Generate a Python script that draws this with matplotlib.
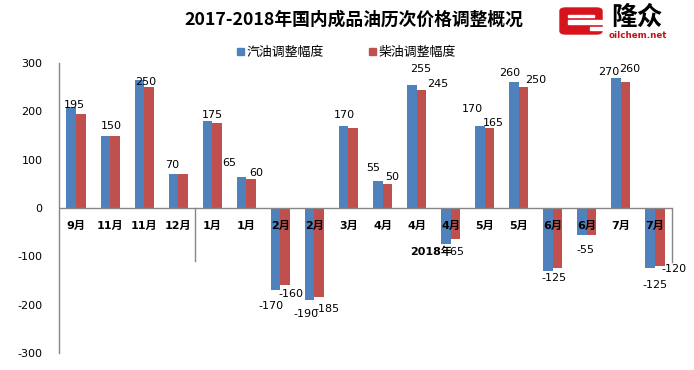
import matplotlib
matplotlib.use("Agg")
import matplotlib.pyplot as plt
from matplotlib.patches import FancyBboxPatch, Rectangle

plt.rcParams['font.family'] = ['DejaVu Sans', 'Noto Sans CJK SC']

categories = ["9月", "11月", "11月", "12月", "1月", "1月", "2月", "2月", "3月",
              "4月", "4月", "4月", "5月", "5月", "6月", "6月", "7月", "7月"]
gasoline = [210, 150, 265, 70, 180, 65, -170, -190, 170, 55, 255, -75, 170, 260, -130, -55, 270, -125]
diesel = [195, 150, 250, 70, 175, 60, -160, -185, 165, 50, 245, -65, 165, 250, -125, -55, 260, -120]
series_names = ["汽油调整幅度", "柴油调整幅度"]
title = "2017-2018年国内成品油历次价格调整概况"
year_label = "2018年"
yticks = [-300, -200, -100, 0, 100, 200, 300]

# label placement: (category, series, x, y)
labels = [
    (0, 1, -0.06, 213), (1, 1, 1.05, 170), (2, 1, 2.05, 261), (3, 1, 2.81, 89),
    (4, 1, 3.99, 193), (5, 0, 4.49, 94), (5, 1, 5.28, 73), (6, 0, 5.72, -203),
    (6, 1, 6.30, -178), (7, 0, 6.74, -220), (7, 1, 7.36, -209), (8, 0, 7.89, 193),
    (9, 0, 8.74, 83), (9, 1, 9.27, 64), (10, 0, 10.12, 288), (10, 1, 10.61, 257),
    (11, 1, 11.15, -91), (12, 0, 11.64, 205), (12, 1, 12.26, 176), (13, 0, 12.73, 280),
    (13, 1, 13.49, 265), (14, 1, 14.05, -145), (15, 1, 14.95, -87), (16, 0, 15.63, 282),
    (16, 1, 16.27, 288), (17, 0, 17.0, -160), (17, 1, 17.56, -126),
]

blue = "#4F81BD"
red = "#C0504D"
axis_gray = "#868686"

W, H = 694, 370
fig = plt.figure(figsize=(W / 100, H / 100), dpi=100)
fig.patch.set_facecolor("white")

def fx(x):
    return x / W

def fy(y):
    return 1 - y / H

ax = fig.add_axes([fx(59), fy(353), fx(672) - fx(59), fy(63) - fy(353)])
n = len(categories)
xs = list(range(n))
bw = 0.28
ax.bar([x - bw / 2 for x in xs], gasoline, width=bw, color=blue, label=series_names[0], zorder=2)
ax.bar([x + bw / 2 for x in xs], diesel, width=bw, color=red, label=series_names[1], zorder=2)

ax.set_xlim(-0.5, n - 0.5)
ax.set_ylim(-300, 300)
ax.set_yticks(yticks)
ax.set_yticklabels([str(v) for v in yticks], fontsize=8)
ax.tick_params(axis='y', length=0, pad=12)
ax.set_xticks([])
for s in ["top", "right", "bottom"]:
    ax.spines[s].set_visible(False)
ax.spines["left"].set_color(axis_gray)
ax.spines["left"].set_linewidth(1)

ax.axhline(0, color=axis_gray, lw=1, zorder=3)
ax.plot([3.5, 3.5], [0, -110], color=axis_gray, lw=1, zorder=3)
ax.plot([17.5, 17.5], [0, -112], color=axis_gray, lw=1, zorder=3, clip_on=False)

for i, c in enumerate(categories):
    ax.text(i, -37, c, ha="center", va="center", fontsize=8, fontweight="bold",
            family=["DejaVu Sans", "Noto Sans CJK SC"], zorder=5)

vals = [gasoline, diesel]
for cat, s, x, y in labels:
    ax.text(x, y, str(vals[s][cat]), ha="center", va="center", fontsize=8, zorder=6)

ax.text(10.42, -91, year_label, ha="center", va="center", fontsize=8, fontweight="bold",
        family=["DejaVu Sans", "Noto Sans CJK SC"], zorder=7)

# title
fig.text(fx(354), fy(20), title, ha="center", va="center", fontsize=12.8, fontweight="bold",
         family=["Noto Sans CJK SC"])

# legend
fig.patches.append(Rectangle((fx(237), fy(55)), fx(7), 7 / H, transform=fig.transFigure,
                             color=blue, figure=fig))
fig.text(fx(247), fy(52), series_names[0], ha="left", va="center", fontsize=9.3,
         family=["Noto Sans CJK SC"])
fig.patches.append(Rectangle((fx(369), fy(55)), fx(7), 7 / H, transform=fig.transFigure,
                             color=red, figure=fig))
fig.text(fx(379), fy(52), series_names[1], ha="left", va="center", fontsize=9.3,
         family=["Noto Sans CJK SC"])

# logo
fig.patches.append(FancyBboxPatch((fx(560), fy(34)), fx(42), 26 / H, boxstyle="round,pad=0,rounding_size=0.008",
                                  transform=fig.transFigure, color="#D7131C", figure=fig))
fig.patches.append(Rectangle((fx(568), fy(23.5)), fx(34), 4 / H, transform=fig.transFigure,
                             color="white", figure=fig))
fig.patches.append(Rectangle((fx(590), fy(30)), fx(13), 3 / H, transform=fig.transFigure,
                             color="white", figure=fig))
fig.patches.append(Rectangle((fx(568), fy(17)), fx(26), 2 / H, transform=fig.transFigure,
                             color="white", figure=fig))
fig.text(fx(637), fy(17.5), "隆众", ha="center", va="center", fontsize=18.5, fontweight="bold",
         family=["Noto Sans CJK SC"], color="black")
fig.text(fx(638), fy(35.5), "oilchem.net", ha="center", va="center", fontsize=6.3, fontweight="bold",
         color="#C0141C")

fig.savefig("out.png", dpi=100, facecolor="white")
